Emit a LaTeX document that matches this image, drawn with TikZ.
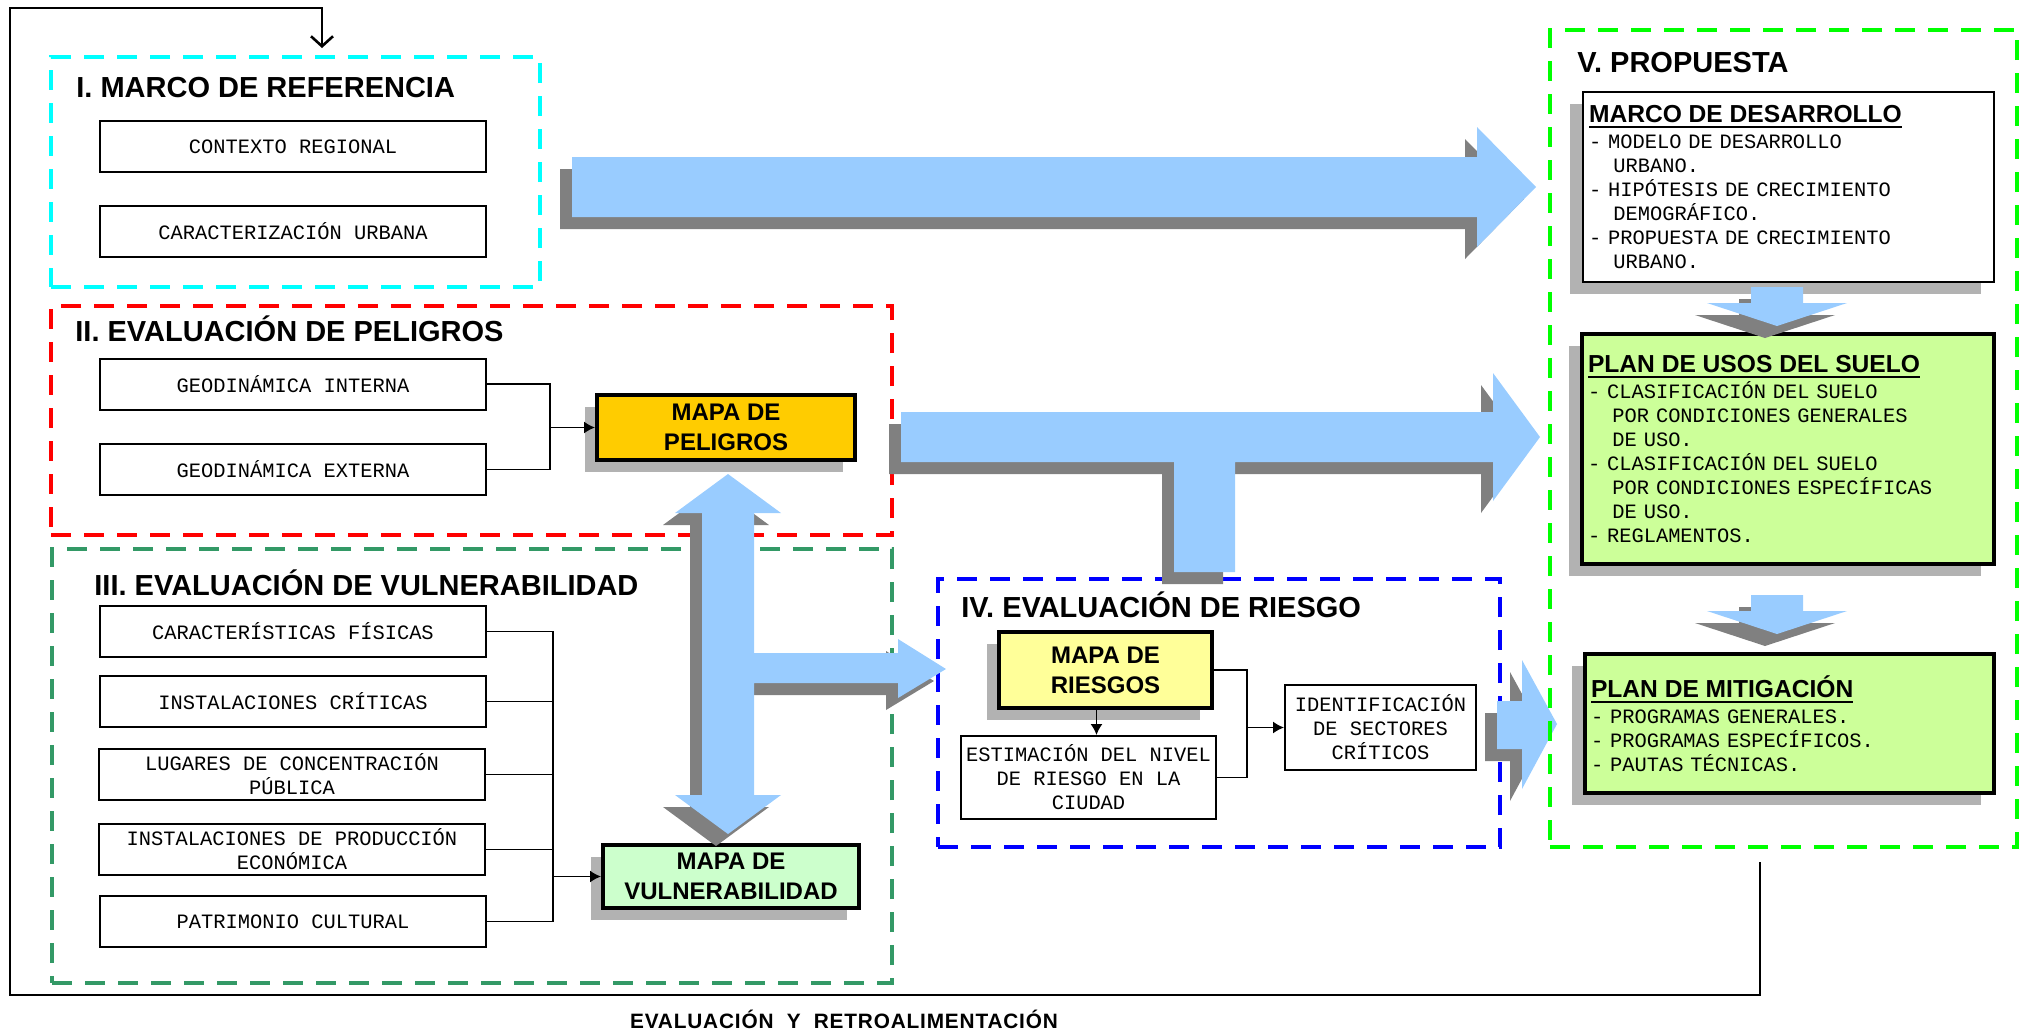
\documentclass[tikz,border=0pt]{standalone}
\usepackage{fontspec}
\setmainfont{Liberation Sans}
\newfontfamily\mono{Liberation Mono}
\usetikzlibrary{arrows.meta, shadows}

\definecolor{cian}{HTML}{00FFFF}
\definecolor{rojo}{HTML}{FF0000}
\definecolor{verdeosc}{HTML}{339966}
\definecolor{azul}{HTML}{0000FF}
\definecolor{verdelima}{HTML}{00FF00}
\definecolor{celeste}{HTML}{99CCFF}
\definecolor{grisosc}{HTML}{808080}
\definecolor{grisclaro}{HTML}{B2B2B2}
\definecolor{oro}{HTML}{FFCC00}
\definecolor{verdepalido}{HTML}{CCFFCC}
\definecolor{amarillo}{HTML}{FFFF99}
\definecolor{verdeclaro}{HTML}{CCFF99}

\newcommand{\fmono}{\mono\fontsize{10.2}{12}\selectfont}
\newcommand{\ftit}{\bfseries\fontsize{14.5}{17}\selectfont}
\newcommand{\fmapa}{\bfseries\fontsize{12}{15}\selectfont}
\newcommand{\fcab}{\rmfamily\bfseries\fontsize{12.3}{14}\selectfont}
\newcommand{\fpie}{\bfseries\fontsize{10.4}{12}\selectfont\addfontfeature{LetterSpace=4}}
\newcommand{\sang}{\hspace*{1.2em}}
\newcommand{\subr}[1]{\setbox0=\hbox{#1}\rlap{\rule[-2.8pt]{\wd0}{1.2pt}}\box0}

% block arrows (pixel coordinates)
\newcommand{\flechaSup}[1]{\fill[#1] (572,157) -- (1477,157) -- (1477,127) -- (1536,187) -- (1477,247) -- (1477,217) -- (572,217) -- cycle;}
\newcommand{\flechaT}[1]{\fill[#1] (901,412) -- (1493,412) -- (1493,373) -- (1540,437) -- (1493,501) -- (1493,462) -- (1235,462) -- (1235,572) -- (1174,572) -- (1174,462) -- (901,462) -- cycle;}
\newcommand{\flechaDoble}[1]{\fill[#1] (728,474) -- (781,513) -- (754,513) -- (754,653) -- (898,653) -- (898,639) -- (946,669) -- (898,698) -- (898,683) -- (754,683) -- (754,795) -- (781,795) -- (728,834) -- (675,795) -- (702,795) -- (702,513) -- (675,513) -- cycle;}
\newcommand{\flechaMit}[1]{\fill[#1] (1497,701) -- (1522,701) -- (1522,660) -- (1557,724) -- (1522,789) -- (1522,749) -- (1497,749) -- cycle;}
\newcommand{\flechaBaja}[2]{\fill[#1] (1751,#2) -- (1803,#2) -- (1803,#2+16) -- (1847,#2+16) -- (1777,#2+39) -- (1707,#2+16) -- (1751,#2+16) -- cycle;}

\begin{document}
\begin{tikzpicture}[
    x=0.5pt, y=-0.5pt,
    every node/.style={inner sep=0pt},
    marco/.style={draw, dash pattern=on 10pt off 6.5pt, line width=2pt},
    caja/.style={draw, line width=1pt, fill=white, minimum width=193pt, minimum height=25.5pt, align=center, font=\fmono},
    mapa/.style={draw, line width=2pt, align=center, font=\fmapa,
        drop shadow={shadow xshift=-6pt, shadow yshift=-6pt, opacity=1, fill=grisclaro}},
    lista/.style={draw, align=left, font=\fmono, inner xsep=3pt,
        drop shadow={shadow xshift=-6.5pt, shadow yshift=-6pt, opacity=1, fill=grisclaro}},
    titulo/.style={anchor=base west, font=\ftit},
    linea/.style={line width=0.8pt},
    flecha/.style={linea, -{Latex[length=5.5pt,width=6pt]}},
    retro/.style={line width=1.3pt, -{Straight Barb[length=5pt,width=11pt]}},
    bloque/.style={fill=celeste},
    sombra/.style={fill=grisosc, shift={(-12,12)}}
]
\useasboundingbox (0,0) rectangle (2024,1030);

% Frames
\node[marco, draw=cian, minimum width=244.5pt, minimum height=115pt] (gI) at (295.5,172) {};
\node[marco, draw=rojo, minimum width=420.5pt, minimum height=114.5pt] (gII) at (471.5,420.5) {};
\node[marco, draw=verdeosc, minimum width=420pt, minimum height=217pt] (gIII) at (472,766) {};
\node[marco, draw=azul, minimum width=281pt, minimum height=134pt] (gIV) at (1219,713) {};

% Titles
\node[titulo] (tI) at (76,97) {I. MARCO DE REFERENCIA};
\node[titulo] (tII) at (75,341) {II. EVALUACIÓN DE PELIGROS};
\node[titulo] (tIII) at (94,595) {III. EVALUACIÓN DE VULNERABILIDAD};
\node[titulo] (tIV) at (961,617) {IV. EVALUACIÓN DE RIESGO};
\node[titulo] (tV) at (1577,72) {V. PROPUESTA};

% I. Marco de referencia
\node[caja] (cr) at (293,146.5) {CONTEXTO REGIONAL};
\node[caja] (cu) at (293,231.5) {CARACTERIZACIÓN URBANA};

% II. Peligros
\node[caja] (gi) at (293,384) {GEODINÁMICA INTERNA};
\node[caja] (ge) at (293,469.5) {GEODINÁMICA EXTERNA};
\node[mapa, fill=oro, minimum width=129pt, minimum height=32.5pt] (mp) at (726,427.5) {MAPA DE\\PELIGROS};

% III. Vulnerabilidad
\node[caja] (cf) at (293,631.5) {CARACTERÍSTICAS FÍSICAS};
\node[caja] (ic) at (293,701.5) {INSTALACIONES CRÍTICAS};
\node[caja] (lc) at (292,774.5) {LUGARES DE CONCENTRACIÓN\\PÚBLICA};
\node[caja] (ip) at (292,849.5) {INSTALACIONES DE PRODUCCIÓN\\ECONÓMICA};
\node[caja] (pc) at (293,921.5) {PATRIMONIO CULTURAL};
\node[mapa, fill=verdepalido, minimum width=128pt, minimum height=31.5pt] (mv) at (731,876.5) {MAPA DE\\VULNERABILIDAD};

% IV. Riesgo
\node[mapa, fill=amarillo, minimum width=106.5pt, minimum height=38pt] (mr) at (1105.5,670) {MAPA DE\\RIESGOS};
\node[caja, minimum width=127.5pt, minimum height=41.5pt] (er) at (1088.5,777.5) {ESTIMACIÓN DEL NIVEL\\DE RIESGO EN LA\\CIUDAD};
\node[caja, minimum width=95.5pt, minimum height=42.5pt] (is) at (1380.5,727.5) {IDENTIFICACIÓN\\DE SECTORES\\CRÍTICOS};

% V. Propuesta
\node[lista, line width=0.8pt, fill=white, minimum width=205.5pt, minimum height=95pt, text width=199.5pt] (md) at (1788.5,187)
    {\subr{\fcab MARCO DE DESARROLLO}\\[1pt]
     - MODELO DE DESARROLLO\\ \sang URBANO.\\
     - HIPÓTESIS DE CRECIMIENTO\\ \sang DEMOGRÁFICO.\\
     - PROPUESTA DE CRECIMIENTO\\ \sang URBANO.};
\node[lista, line width=1.8pt, fill=verdeclaro, minimum width=206pt, minimum height=115pt, text width=200pt] (pu) at (1788,449)
    {\subr{\fcab PLAN DE USOS DEL SUELO}\\[1pt]
     - CLASIFICACIÓN DEL SUELO\\ \sang POR CONDICIONES GENERALES\\ \sang DE USO.\\
     - CLASIFICACIÓN DEL SUELO\\ \sang POR CONDICIONES ESPECÍFICAS\\ \sang DE USO.\\
     - REGLAMENTOS.};
\node[lista, line width=1.8pt, fill=verdeclaro, minimum width=204.5pt, minimum height=69.5pt, text width=198.5pt] (pm) at (1789.5,723.5)
    {\subr{\fcab PLAN DE MITIGACIÓN}\\[1pt]
     - PROGRAMAS GENERALES.\\
     - PROGRAMAS ESPECÍFICOS.\\
     - PAUTAS TÉCNICAS.};

% Block arrows
\flechaSup{sombra} \flechaSup{bloque}
\flechaT{sombra} \flechaT{bloque}
\flechaDoble{sombra} \flechaDoble{bloque}
\flechaMit{sombra} \flechaMit{bloque}
\foreach \y in {287,595}{\flechaBaja{sombra}{\y} \flechaBaja{bloque}{\y}}

\node[marco, draw=verdelima, minimum width=233.5pt, minimum height=408.5pt] (gV) at (1783.5,438.5) {};

% Connectors
\coordinate (jp) at (550,427.5);
\draw[linea] (gi.east) -| (jp) |- (ge.east);
\draw[flecha] (jp) -- (mp.west);

\coordinate (jv) at (553,876.5);
\draw[linea] (cf.east) -| (jv |- pc.east) -- (pc.east);
\foreach \c in {ic,lc,ip}
    \draw[linea] (\c.east) -- (\c.east -| jv);
\draw[flecha] (jv) -- (mv.west);

\draw[flecha] ([xshift=-4.5pt]mr.south) -- ([xshift=-4.5pt]mr.south |- er.north);
\coordinate (jr) at (1247,727.5);
\draw[linea] (mr.east) -| (jr) |- (er.east);
\draw[flecha] (jr) -- (is.west);

% Feedback loop
\coordinate (fbA) at (1760,862);
\coordinate (fbB) at (10,995);
\coordinate (fbC) at (322,8);
\coordinate (fbD) at (322,48);
\draw[retro] (fbA) |- (fbB) |- (fbC) -- (fbD);
\node[anchor=base, font=\fpie] (pie) at (844,1028) {EVALUACIÓN\ \ Y\ \ RETROALIMENTACIÓN};

\end{tikzpicture}
\end{document}
